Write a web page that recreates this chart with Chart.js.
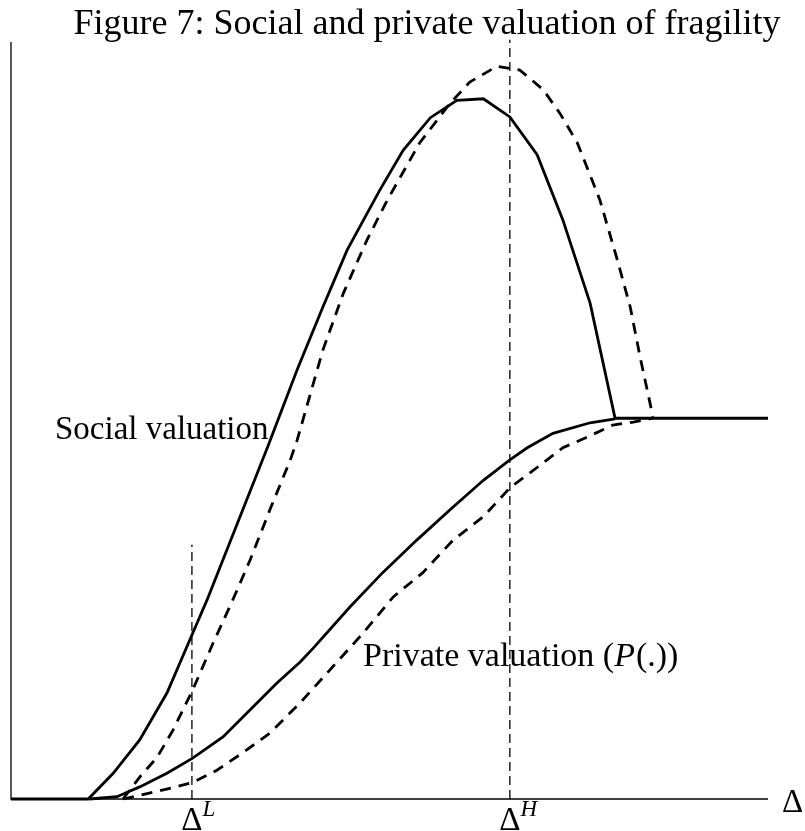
<!DOCTYPE html>
<html lang="en">
<head>
    <meta charset="UTF-8">
    <title>Figure 7: Social and private valuation of fragility</title>
    <script src="https://cdn.jsdelivr.net/npm/chart.js"></script>
    <style>
        html, body { margin: 0; padding: 0; background: #fff; }
        #wrap { width: 805px; height: 831px; }
    </style>
</head>
<body>
    <div id="wrap">
        <canvas id="fragChart" width="805" height="831"></canvas>
    </div>

    <script>
        // values, axis runs 0..100 both ways
        var socialSolidX = [0, 10.2, 13.5, 17.0, 20.6, 24.0, 25.9, 33.9, 37.8, 41.2, 44.4, 48.7, 51.8, 55.4, 58.9, 62.4, 65.9, 69.5, 72.9, 76.5, 79.8, 100];
        var socialSolidY = [0, 0, 3.4, 7.8, 14.0, 21.9, 26.3, 46.5, 56.7, 65.0, 72.5, 80.4, 85.7, 90.0, 92.3, 92.5, 90.1, 85.1, 76.5, 65.5, 50.3, 50.3];

        var socialDashX = [14.8, 17.0, 19.3, 21.4, 24.0, 26.7, 29.3, 31.6, 34.2, 36.9, 37.8, 41.2, 43.9, 47.0, 49.7, 52.7, 54.0, 58.0, 60.6, 64.2, 67.2, 70.3, 72.5, 74.8, 76.9, 77.8, 80.1, 81.8, 83.1, 84.8];
        var socialDashY = [0, 2.9, 5.5, 9.1, 14.4, 20.6, 26.3, 31.6, 38.2, 44.8, 47.4, 59.3, 66.8, 73.8, 79.1, 84.4, 86.7, 91.9, 94.7, 96.8, 96.3, 93.7, 90.6, 86.7, 81.4, 79.1, 71.2, 65.0, 58.4, 50.5];

        var privateSolidX = [10.4, 14.0, 17.0, 20.6, 24.0, 28.0, 31.6, 35.1, 38.2, 39.9, 44.8, 49.1, 53.6, 58.0, 62.4, 65.9, 68.2, 71.6, 76.5, 79.8];
        var privateSolidY = [0, 0.3, 1.6, 3.4, 5.4, 8.2, 11.8, 15.3, 18.1, 19.9, 25.4, 29.9, 34.2, 38.2, 42.1, 44.8, 46.4, 48.3, 49.7, 50.2];

        var privateDashX = [14.8, 18.4, 21.4, 24.0, 27.2, 30.6, 34.2, 38.2, 46.5, 50.5, 54.4, 58.4, 62.4, 65.9, 70.3, 72.9, 76.1, 79.5, 82.2, 84.8];
        var privateDashY = [0, 0.8, 1.5, 2.2, 3.8, 6.1, 8.7, 12.7, 21.9, 26.7, 29.9, 34.2, 37.3, 41.1, 44.4, 46.4, 47.8, 49.4, 49.8, 50.3];

        var deltaL = 23.9;
        var deltaH = 65.9;
        var deltaLTop = 33.6;
        var deltaHTop = 100.3;

        var titleText = 'Figure 7: Social and private valuation of fragility';
        var serif = '"Liberation Serif", "DejaVu Serif", serif';

        function pts(xs, ys) {
            return xs.map(function (x, i) { return { x: x, y: ys[i] }; });
        }

        function line(data, dash, width) {
            return {
                data: data,
                borderColor: '#000',
                borderWidth: width,
                borderDash: dash,
                pointRadius: 0,
                tension: 0,
                fill: false,
                clip: false
            };
        }

        // axes, title and labels
        var decorations = {
            id: 'decorations',
            afterDraw: function (chart) {
                var ctx = chart.ctx;
                var a = chart.chartArea;
                var xs = chart.scales.x;
                ctx.save();
                ctx.strokeStyle = '#000';
                ctx.lineWidth = 1.3;
                ctx.setLineDash([]);
                ctx.beginPath();
                ctx.moveTo(a.left, a.top);
                ctx.lineTo(a.left, a.bottom);
                ctx.lineTo(a.right, a.bottom);
                ctx.stroke();

                ctx.fillStyle = '#000';
                ctx.textBaseline = 'alphabetic';

                ctx.font = '36px ' + serif;
                ctx.textAlign = 'center';
                ctx.fillText(titleText, 427, 34);

                ctx.textAlign = 'left';
                ctx.font = '33px ' + serif;
                ctx.fillText('Social valuation', 55, 439);

                // Private valuation (P(.))
                var px = 363, py = 666;
                var part1 = 'Private valuation (';
                ctx.font = '34px ' + serif;
                ctx.fillText(part1, px, py);
                px += ctx.measureText(part1).width;
                ctx.font = 'italic 34px ' + serif;
                ctx.fillText('P', px, py);
                px += ctx.measureText('P').width + 1;
                ctx.font = '34px ' + serif;
                ctx.fillText('(.))', px, py);

                // tick labels
                function delta(x, sup) {
                    ctx.font = '33px ' + serif;
                    ctx.textAlign = 'left';
                    var w = ctx.measureText('\u0394').width;
                    ctx.fillText('\u0394', x - w / 2, 830);
                    ctx.font = 'italic 23px ' + serif;
                    ctx.fillText(sup, x + w / 2, 816);
                }
                delta(xs.getPixelForValue(deltaL), 'L');
                delta(xs.getPixelForValue(deltaH), 'H');

                ctx.font = '33px ' + serif;
                ctx.fillText('\u0394', 782, 812);
                ctx.restore();
            }
        };

        var ctx = document.getElementById('fragChart').getContext('2d');
        var fragChart = new Chart(ctx, {
            type: 'line',
            data: {
                datasets: [
                    line(pts([deltaL, deltaL], [0, deltaLTop]), [9, 5], 1.3),
                    line(pts([deltaH, deltaH], [0, deltaHTop]), [9, 5], 1.3),
                    line(pts(socialSolidX, socialSolidY), [], 2.8),
                    line(pts(socialDashX, socialDashY), [11, 8], 2.8),
                    line(pts(privateSolidX, privateSolidY), [], 2.8),
                    line(pts(privateDashX, privateDashY), [11, 8], 2.8)
                ]
            },
            options: {
                responsive: false,
                animation: false,
                layout: { padding: { left: 11, right: 37, top: 42, bottom: 32 } },
                plugins: {
                    legend: { display: false },
                    tooltip: { enabled: false },
                    title: { display: false }
                },
                scales: {
                    x: { type: 'linear', min: 0, max: 100, display: false },
                    y: { min: 0, max: 100, display: false }
                }
            },
            plugins: [decorations]
        });
    </script>
</body>
</html>
